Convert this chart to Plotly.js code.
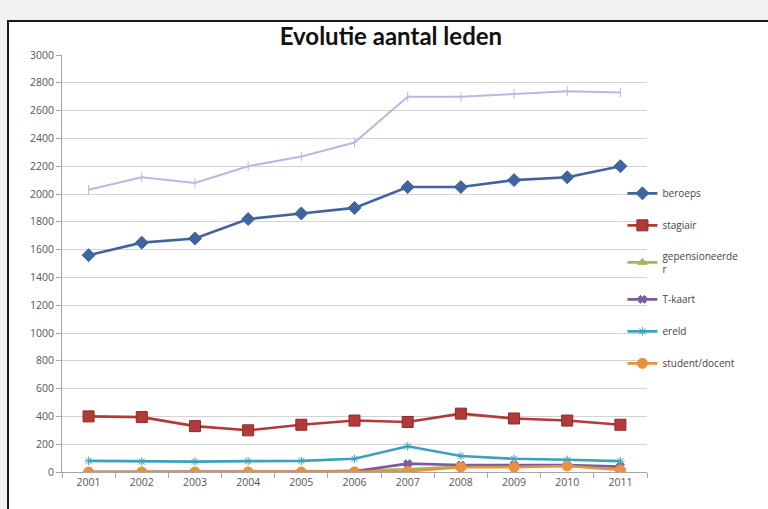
<!DOCTYPE html>
<html>
<head>
<meta charset="utf-8">
<script src="https://cdn.plot.ly/plotly-3.0.1.min.js"></script>
<style>
  html, body { margin: 0; padding: 0; width: 768px; height: 509px; overflow: hidden; background: #f2f2f2; }
  #frame { position: absolute; left: 7px; top: 20px; width: 800px; height: 520px; background: #ffffff;
           border-left: 2px solid #1a1a1a; border-top: 2px solid #1a1a1a; }
  #chart { position: absolute; left: 0; top: 0; width: 768px; height: 509px; }
</style>
</head>
<body>
<div id="frame"></div>
<div id="chart"></div>
<script>
// ---- data ----
const years = ["2001","2002","2003","2004","2005","2006","2007","2008","2009","2010","2011"];
const beroeps        = [1560, 1650, 1680, 1820, 1860, 1900, 2050, 2050, 2100, 2120, 2200];
const stagiair       = [400, 395, 330, 300, 340, 370, 360, 420, 385, 370, 340];
const gepensioneerde = [0, 0, 0, 0, 0, 10, 20, 40, 40, 45, 30];
const tkaart         = [0, 0, 0, 0, 0, 5, 60, 50, 50, 50, 40];
const ereld          = [80, 75, 75, 78, 80, 95, 185, 115, 95, 88, 78];
const studentDocent  = [0, 0, 0, 0, 0, 0, 5, 35, 35, 43, 15];
const totaal         = [2030, 2120, 2080, 2200, 2270, 2370, 2700, 2700, 2720, 2740, 2730];
const yTicks = [0, 200, 400, 600, 800, 1000, 1200, 1400, 1600, 1800, 2000, 2200, 2400, 2600, 2800, 3000];

const names = ["beroeps", "stagiair", "gepensioneerde<br>r", "T-kaart", "ereld", "student/docent"];

function tr(y, name, color, symbol, msize, group, extra) {
  return Object.assign({
    x: years, y: y, name: name, type: "scatter", mode: "lines+markers",
    legendgroup: group,
    line: { color: color, width: 2.6 },
    marker: { color: color, symbol: symbol, size: msize, line: { color: color, width: 1 } }
  }, extra || {});
}

const data = [
  tr(totaal, "totaal", "#b3bbe0", "line-ns", 7, "g7",
     { showlegend: false, line: { color: "#b3bbe0", width: 2 }, marker: { symbol: "line-ns", size: 7, color: "#b3bbe0", line: { color: "#b3bbe0", width: 1 } } }),
  tr(beroeps, names[0], "#41649f", "diamond", 10, "g1"),
  tr(stagiair, names[1], "#b23b3a", "square", 11, "g2",
     { marker: { symbol: "square", size: 11, color: "#b23b3a", line: { color: "#8a2a2a", width: 1 } } }),
  tr(gepensioneerde, names[2], "#9bbb59", "triangle-up", 8, "g3"),
  tr(tkaart, names[3], "#7a5c9e", "x", 7, "g4"),
  tr(ereld, names[4], "#3ea1bb", "asterisk-open", 7, "g5"),
  tr(studentDocent, names[5], "#e8923f", "circle", 10, "g6")
];

const layout = {
  width: 768, height: 509,
  paper_bgcolor: "rgba(0,0,0,0)",
  plot_bgcolor: "#ffffff",
  margin: { l: 62, r: 121, t: 55, b: 37 },
  title: {
    text: "Evolutie aantal leden",
    font: { family: "Lato, 'Open Sans', sans-serif", size: 24, color: "#111111", weight: "bold" },
    x: 0.509, xanchor: "center", y: 0.928, yanchor: "middle"
  },
  xaxis: {
    type: "category",
    range: [-0.5, 10.5],
    showgrid: false,
    showline: true, linecolor: "#a6a6a6", linewidth: 1,
    ticks: "outside", ticklen: 5, tickcolor: "#a6a6a6", tickson: "boundaries",
    tickfont: { family: "'Open Sans', sans-serif", size: 10.5, color: "#555555" },
    zeroline: false, fixedrange: true
  },
  yaxis: {
    range: [0, 3000],
    tickvals: yTicks,
    showgrid: true, gridcolor: "#d3d3d3", gridwidth: 1,
    showline: true, linecolor: "#a6a6a6", linewidth: 1,
    ticks: "outside", ticklen: 5, tickcolor: "#a6a6a6",
    tickfont: { family: "'Open Sans', sans-serif", size: 10.5, color: "#555555" },
    zeroline: false, fixedrange: true
  },
  showlegend: true,
  legend: {
    x: 0.958, xanchor: "left", y: 0.703, yanchor: "top",
    bgcolor: "rgba(0,0,0,0)",
    font: { family: "'Open Sans', sans-serif", size: 10, color: "#444444" },
    traceorder: "grouped", tracegroupgap: 13,
    itemwidth: 30
  }
};

Plotly.newPlot("chart", data, layout, { staticPlot: true, displayModeBar: false });
</script>
</body>
</html>
